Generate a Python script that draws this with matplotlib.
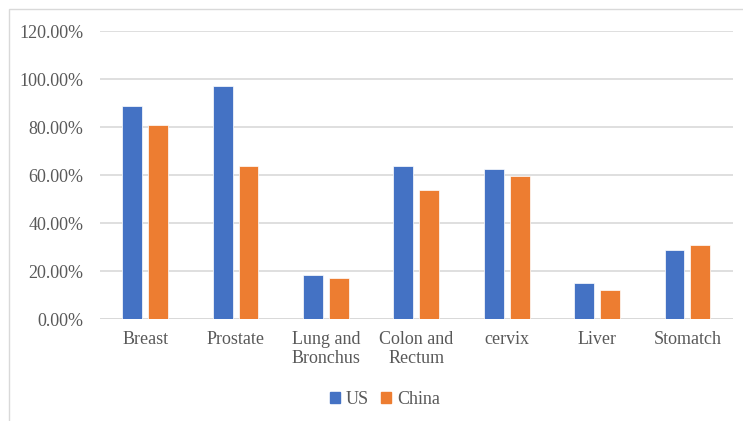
import matplotlib
matplotlib.use("Agg")
import matplotlib.pyplot as plt
import numpy as np
from matplotlib.patches import Rectangle, Patch
from matplotlib.ticker import FuncFormatter

# Five-year survival rates by cancer site
categories = ["Breast", "Prostate", "Lung and\nBronchus", "Colon and\nRectum",
              "cervix", "Liver", "Stomatch"]
us_rates = [0.887, 0.973, 0.185, 0.641, 0.627, 0.151, 0.290]
china_rates = [0.809, 0.639, 0.174, 0.540, 0.599, 0.123, 0.310]
series_names = ["US", "China"]

BLUE = "#4472C4"
ORANGE = "#ED7D31"
TEXT = "#595959"
GRID = "#D9D9D9"

plt.rcParams["font.family"] = ["Liberation Serif", "DejaVu Serif"]
plt.rcParams["font.size"] = 13

fig = plt.figure(figsize=(7.43, 4.21), dpi=100)

# chart-area border (only top and left edges fall inside the canvas)
fig.patches.append(Rectangle((9 / 743, -0.5), 2.0, 1.5 - 9 / 421,
                             transform=fig.transFigure, fill=False,
                             edgecolor=GRID, linewidth=1.0))

ax = fig.add_axes([0.1346, 0.2411, 0.8515, 0.6846])

x = np.arange(len(categories))
width = 0.22
offset = 0.143
ax.bar(x - offset, us_rates, width, color=BLUE, edgecolor="white",
       linewidth=0.5, zorder=3)
ax.bar(x + offset, china_rates, width, color=ORANGE, edgecolor="white",
       linewidth=0.5, zorder=3)

ax.set_xlim(-0.5, len(categories) - 0.5)
ax.set_ylim(0, 1.2)
ax.set_yticks(np.arange(0, 1.21, 0.2))
ax.yaxis.set_major_formatter(FuncFormatter(lambda v, _: f"{v * 100:.2f}%"))
ax.set_xticks(x)
ax.set_xticklabels(categories, linespacing=1.15)

ax.grid(axis="y", color=GRID, linewidth=1.2, zorder=0)
for side in ["top", "right", "left", "bottom"]:
    ax.spines[side].set_visible(False)
ax.axhline(0, color=GRID, linewidth=1.4, zorder=2)
ax.tick_params(axis="both", length=0, colors=TEXT, labelsize=13)
ax.tick_params(axis="y", pad=12)
ax.tick_params(axis="x", pad=8)

handles = [Patch(color=BLUE), Patch(color=ORANGE)]
fig.legend(handles, series_names, loc="center",
           bbox_to_anchor=(385 / 743, 1 - 399 / 421), ncol=2, frameon=False,
           handlelength=0.55, handleheight=0.55, handletextpad=0.3,
           columnspacing=0.7, labelcolor=TEXT, fontsize=13)

fig.savefig("out.png", dpi=100)
